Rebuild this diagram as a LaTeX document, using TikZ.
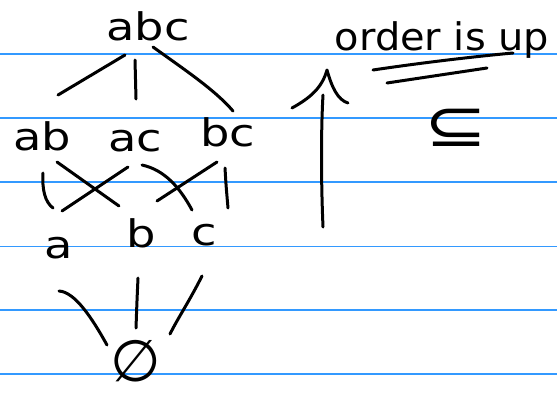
\documentclass[tikz,border=0pt]{standalone}
\usepackage{fontspec}
\setmainfont{DejaVu Sans}
\definecolor{ruleblue}{RGB}{51,153,255}
\newcommand{\widetext}[1]{\scalebox{1.22}[1]{#1}}
\tikzset{
  pen/.style={line width=3pt, line cap=round, line join=round, black},
  rule/.style={ruleblue, line width=1.5pt},
  lbl/.style={inner sep=0pt, font=\fontsize{38}{38}\selectfont, anchor=base},
  sym/.style={inner sep=0pt, font=\fontsize{58}{58}\selectfont},
}
\begin{document}
\begin{tikzpicture}[x=1pt, y=-1pt]
  \fill[white] (0,0) rectangle (557,394);
  \useasboundingbox (0,0) rectangle (557,394);

  % ruled paper
  \foreach \yy in {54,118,182,246.5,310,374}
    \draw[rule] (0,\yy) -- (557,\yy);

  % lattice elements
  \node[lbl] (abc) at (148,40) {\widetext{abc}};
  \node[lbl] (ab)  at (42,150) {\widetext{ab}};
  \node[lbl] (ac)  at (135,151) {\widetext{ac}};
  \node[lbl] (bc)  at (228,146) {\widetext{bc}};
  \node[lbl] (a)   at (59,258) {\widetext{a}};
  \node[lbl] (b)   at (141,247) {\widetext{b}};
  \node[lbl] (c)   at (204,245) {\widetext{c}};
  \node[sym] (empty) at (136,361) {∅};

  % stroke end points
  \coordinate (abc-ab-s) at (125,55);  \coordinate (abc-ab-e) at (58,95);
  \coordinate (abc-ac-s) at (135,60);  \coordinate (abc-ac-e) at (136,99);
  \coordinate (abc-bc-s) at (153,47);  \coordinate (abc-bc-e) at (233,111);
  \coordinate (ab-a-s) at (43,173);    \coordinate (ab-a-e) at (53,208);
  \coordinate (ab-b-s) at (57,162);    \coordinate (ab-b-e) at (119,206);
  \coordinate (ac-a-s) at (128,167);   \coordinate (ac-a-e) at (62,211);
  \coordinate (ac-c-s) at (142,165);   \coordinate (ac-c-e) at (192,210);
  \coordinate (bc-b-s) at (217,162);   \coordinate (bc-b-e) at (157,201);
  \coordinate (bc-c-s) at (225,168);   \coordinate (bc-c-e) at (228,208);
  \coordinate (a-e-s) at (59,291);     \coordinate (a-e-e) at (107,345);
  \coordinate (b-e-s) at (138,278);    \coordinate (b-e-e) at (136,328);
  \coordinate (c-e-s) at (202,276);    \coordinate (c-e-e) at (170,334);

  % covering relations
  \draw[pen] (abc-ab-s) -- (abc-ab-e);
  \draw[pen] (abc-ac-s) -- (abc-ac-e);
  \draw[pen] (abc-bc-s) .. controls (185,70) and (215,90) .. (abc-bc-e);
  \draw[pen] (ab-a-s) .. controls (42,190) and (45,202) .. (ab-a-e);
  \draw[pen] (ab-b-s) -- (ab-b-e);
  \draw[pen] (ac-a-s) -- (ac-a-e);
  \draw[pen] (ac-c-s) .. controls (165,170) and (180,188) .. (ac-c-e);
  \draw[pen] (bc-b-s) -- (bc-b-e);
  \draw[pen] (bc-c-s) .. controls (226,185) .. (bc-c-e);
  \draw[pen] (a-e-s) .. controls (75,292) and (92,318) .. (a-e-e);
  \draw[pen] (b-e-s) .. controls (137,300) .. (b-e-e);
  \draw[pen] (c-e-s) .. controls (190,300) and (178,318) .. (c-e-e);

  % upward arrow
  \coordinate (arr-foot) at (323,227);
  \coordinate (arr-tip)  at (327,70);
  \coordinate (arr-top)  at (323,95);
  \coordinate (barb-l) at (292,108);
  \coordinate (barb-r) at (348,103);
  \draw[pen] (arr-foot) .. controls (321,180) and (321,130) .. (arr-top);
  \draw[pen] (barb-l) .. controls (310,98) and (322,88) .. (arr-tip)
             .. controls (332,88) and (338,100) .. (barb-r);

  % heading with double underline
  \node[lbl] (order) at (442,50) {\scalebox{1.05}[1]{order is up}};
  \coordinate (ul1-s) at (373,70);  \coordinate (ul1-e) at (513,53);
  \coordinate (ul2-s) at (387,83);  \coordinate (ul2-e) at (487,68);
  \draw[pen] (ul1-s) .. controls (420,63) and (470,57) .. (ul1-e);
  \draw[pen] (ul2-s) -- (ul2-e);

  % inclusion symbol
  \node[sym] (subset) at (456,128) {\scalebox{1.3}[1.05]{⊆}};
\end{tikzpicture}
\end{document}
